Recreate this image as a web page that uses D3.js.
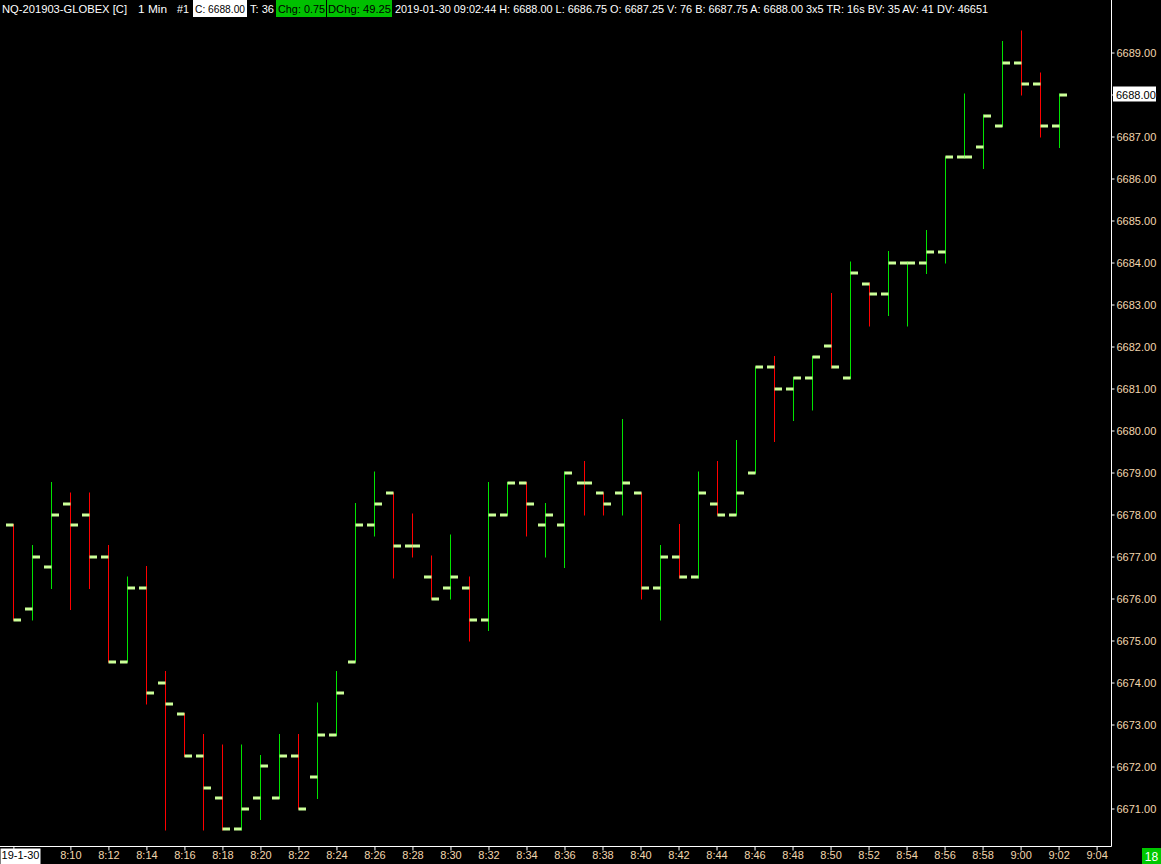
<!DOCTYPE html>
<html>
<head>
<meta charset="utf-8">
<script src="https://cdn.jsdelivr.net/npm/d3@7"></script>
<style>
  html, body { margin: 0; padding: 0; background: #000; }
  svg { display: block; }
  text { font-family: "Liberation Sans", Arial, sans-serif; }
</style>
</head>
<body>
<div id="chart"></div>
<script>
// one bar per minute, NQ 1 min
var times = ["8:07","8:08","8:09","8:10","8:11","8:12","8:13","8:14","8:15","8:16",
  "8:17","8:18","8:19","8:20","8:21","8:22","8:23","8:24","8:25","8:26",
  "8:27","8:28","8:29","8:30","8:31","8:32","8:33","8:34","8:35","8:36",
  "8:37","8:38","8:39","8:40","8:41","8:42","8:43","8:44","8:45","8:46",
  "8:47","8:48","8:49","8:50","8:51","8:52","8:53","8:54","8:55","8:56",
  "8:57","8:58","8:59","9:00","9:01","9:02"];
var opens = [6677.75,6675.75,6676.75,6678.25,6678.0,6677.0,6674.5,6676.25,6674.0,6673.25,
  6672.25,6671.25,6670.5,6671.25,6671.25,6672.25,6671.75,6672.75,6674.5,6677.75,
  6678.5,6677.25,6676.5,6676.25,6676.25,6675.5,6678.0,6678.75,6677.75,6677.75,
  6678.75,6678.5,6678.5,6678.5,6676.25,6677.0,6676.5,6678.25,6678.0,6679.0,
  6681.5,6681.0,6681.25,6682.0,6681.25,6683.5,6683.25,6684.0,6684.0,6684.25,
  6686.5,6686.75,6687.25,6688.75,6688.25,6687.25];
var highs = [6677.75,6677.25,6678.75,6678.5,6678.5,6677.25,6676.5,6676.75,6674.25,6673.25,
  6672.75,6672.5,6672.5,6672.25,6672.75,6672.75,6673.5,6674.25,6678.25,6679.0,
  6678.5,6678.0,6677.0,6677.5,6676.5,6678.75,6678.75,6678.75,6678.25,6679.0,
  6679.25,6678.5,6680.25,6678.5,6677.25,6677.75,6679.0,6679.25,6679.75,6681.5,
  6681.75,6681.25,6681.75,6683.25,6684.0,6683.5,6684.25,6684.0,6684.75,6686.5,
  6688.0,6687.5,6689.25,6689.5,6688.5,6688.0];
var lows = [6675.5,6675.5,6676.25,6675.75,6676.25,6674.5,6674.5,6673.5,6670.5,6672.25,
  6670.5,6670.5,6670.5,6670.75,6671.25,6671.0,6671.25,6672.75,6674.5,6677.5,
  6676.5,6677.0,6676.0,6676.0,6675.0,6675.25,6678.0,6677.5,6677.0,6676.75,
  6678.0,6678.0,6678.0,6676.0,6675.5,6676.5,6676.5,6678.0,6678.0,6679.0,
  6679.75,6680.25,6680.5,6681.5,6681.25,6682.5,6682.75,6682.5,6683.75,6684.0,
  6686.5,6686.25,6687.25,6688.0,6687.0,6686.75];
var closes = [6675.5,6677.0,6678.0,6677.75,6677.0,6674.5,6676.25,6673.75,6673.5,6672.25,
  6671.5,6670.5,6671.0,6672.0,6672.25,6671.0,6672.75,6673.75,6677.75,6678.25,
  6677.25,6677.25,6676.0,6676.5,6675.5,6678.0,6678.75,6678.25,6678.0,6679.0,
  6678.75,6678.25,6678.75,6676.25,6677.0,6676.5,6678.5,6678.0,6678.5,6681.5,
  6681.0,6681.25,6681.75,6681.5,6683.75,6683.25,6684.0,6684.0,6684.25,6686.5,
  6686.5,6687.5,6688.75,6688.25,6687.25,6688.0];

var xTickTimes = ["8:07","8:10","8:12","8:14","8:16","8:18","8:20","8:22","8:24","8:26",
  "8:28","8:30","8:32","8:34","8:36","8:38","8:40","8:42","8:44","8:46",
  "8:48","8:50","8:52","8:54","8:56","8:58","9:00","9:02","9:04"];
var dateLabel = "19-1-30";
var yTicks = [6671,6672,6673,6674,6675,6676,6677,6678,6679,6680,
  6681,6682,6683,6684,6685,6686,6687,6688,6689];
var lastPrice = 6688.00;
var barCount = "18";

var W = 1161, H = 864;
var plotRight = 1111.5, plotBottom = 846.5;
var upColor = "#00e400", downColor = "#ff0000", tickColor = "#ccff99";
var labelColor = "#f2d6ae";

var parseT = d3.timeParse("%H:%M");
function fmtT(d) { return d.getHours() + ":" + d3.timeFormat("%M")(d); }

var bars = times.map(function (t, i) {
  return { t: parseT(t), o: opens[i], h: highs[i], l: lows[i], c: closes[i] };
});
// colour: close vs open, ties fall back to previous close / previous colour
bars.forEach(function (d, i) {
  var prev = i > 0 ? bars[i - 1] : null;
  if (d.c > d.o) d.up = true;
  else if (d.c < d.o) d.up = false;
  else if (prev && d.c > prev.c) d.up = true;
  else if (prev && d.c < prev.c) d.up = false;
  else d.up = prev ? prev.up : false;
});

var x = d3.scaleTime()
  .domain([parseT("8:10"), parseT("9:04")])
  .range([70.4, 1096.6]);
var y = d3.scaleLinear()
  .domain([6671, 6689])
  .range([808.5, 52.5]);

var svg = d3.select("#chart").append("svg")
  .attr("width", W).attr("height", H);
svg.append("rect").attr("width", W).attr("height", H).attr("fill", "#000");

// ---- bars ----
var g = svg.append("g");
var bar = g.selectAll("g.bar").data(bars).enter().append("g").attr("class", "bar");
bar.append("line")
  .attr("x1", function (d) { return Math.round(x(d.t)) + 0.5; })
  .attr("x2", function (d) { return Math.round(x(d.t)) + 0.5; })
  .attr("y1", function (d) { return y(d.h) - 1; })
  .attr("y2", function (d) { return y(d.l) + 1; })
  .attr("stroke", function (d) { return d.up ? upColor : downColor; })
  .attr("stroke-width", 1);
// open tick (left)
bar.append("rect")
  .attr("x", function (d) { return Math.round(x(d.t)) - 7; })
  .attr("y", function (d) { return Math.round(y(d.o)) - 1.5; })
  .attr("width", 7.5).attr("height", 3)
  .attr("fill", tickColor);
// close tick (right)
bar.append("rect")
  .attr("x", function (d) { return Math.round(x(d.t)) + 0.5; })
  .attr("y", function (d) { return Math.round(y(d.c)) - 1.5; })
  .attr("width", 7.5).attr("height", 3)
  .attr("fill", tickColor);

// ---- frame ----
svg.append("line")
  .attr("x1", plotRight).attr("x2", plotRight).attr("y1", 0).attr("y2", plotBottom)
  .attr("stroke", "#fff").attr("stroke-width", 1);
svg.append("line")
  .attr("x1", 0).attr("x2", plotRight).attr("y1", plotBottom).attr("y2", plotBottom)
  .attr("stroke", "#fff").attr("stroke-width", 1);

// ---- y axis ----
var yAxis = d3.axisRight(y)
  .tickValues(yTicks)
  .tickSize(3)
  .tickPadding(2)
  .tickFormat(d3.format(".2f"));
var yg = svg.append("g").attr("transform", "translate(" + plotRight + ",0)").call(yAxis);
yg.select(".domain").remove();
yg.selectAll(".tick line").attr("stroke", "#fff");
yg.selectAll(".tick text")
  .attr("fill", labelColor)
  .style("font-size", "11px")
  .style("font-family", "'Liberation Sans', Arial, sans-serif");

// last price marker
var lp = svg.append("g").attr("transform", "translate(0," + y(lastPrice) + ")");
lp.append("rect").attr("x", 1113).attr("y", -8).attr("width", 43).attr("height", 15).attr("fill", "#fff");
lp.append("text").attr("x", 1116).attr("y", 4).attr("fill", "#000")
  .style("font-size", "11px").text(d3.format(".2f")(lastPrice));

// ---- x axis ----
var xAxis = d3.axisBottom(x)
  .tickValues(xTickTimes.map(parseT))
  .tickSize(4)
  .tickPadding(1)
  .tickFormat(function (d, i) { return i === 0 ? dateLabel : fmtT(d); });
var xg = svg.append("g").attr("transform", "translate(0," + plotBottom + ")").call(xAxis);
xg.select(".domain").remove();
xg.selectAll(".tick line").attr("stroke", "#fff");
xg.selectAll(".tick text")
  .attr("fill", labelColor)
  .style("font-size", "11px")
  .style("font-family", "'Liberation Sans', Arial, sans-serif");
// date label sits in a white box at the left edge
var first = xg.select(".tick text");
first.attr("fill", "#000").attr("text-anchor", "start")
  .attr("x", 1 - (x(parseT(xTickTimes[0]))));
xg.select(".tick").insert("rect", "text")
  .attr("x", -x(parseT(xTickTimes[0]))).attr("y", 2)
  .attr("width", 40).attr("height", 16).attr("fill", "#fff");

// bar counter box
svg.append("rect").attr("x", 1142).attr("y", 848).attr("width", 19).attr("height", 16).attr("fill", "#00c800");
svg.append("text").attr("x", 1151.5).attr("y", 861).attr("text-anchor", "middle")
  .attr("fill", "#fff").style("font-size", "12px").text(barCount);

// ---- header ----
var hdr = svg.append("g");
function hText(str, x0, x1, color) {
  return hdr.append("text").attr("x", x0).attr("y", 12.5)
    .attr("fill", color || "#fff")
    .style("font-size", "10.5px")
    .attr("textLength", x1 - x0).attr("lengthAdjust", "spacingAndGlyphs")
    .text(str);
}
function hBox(x0, x1, fill) {
  hdr.append("rect").attr("x", x0).attr("y", 0).attr("width", x1 - x0).attr("height", 17).attr("fill", fill);
}
hText("NQ-201903-GLOBEX [C]", 2, 127);
hText("1 Min", 138, 167);
hText("#1", 177, 189);
hBox(193, 247, "#fff");
hText("C: 6688.00", 195, 245, "#000");
hText("T: 36", 250, 274);
hBox(276, 326, "#00c000");
hText("Chg: 0.75", 278, 325, "#000");
hBox(327, 392, "#00c000");
hText("DChg: 49.25", 328, 391, "#000");
hText("2019-01-30 09:02:44 H: 6688.00 L: 6686.75 O: 6687.25 V: 76 B: 6687.75 A: 6688.00 3x5 TR: 16s BV: 35 AV: 41 DV: 46651", 395, 988);
</script>
</body>
</html>
